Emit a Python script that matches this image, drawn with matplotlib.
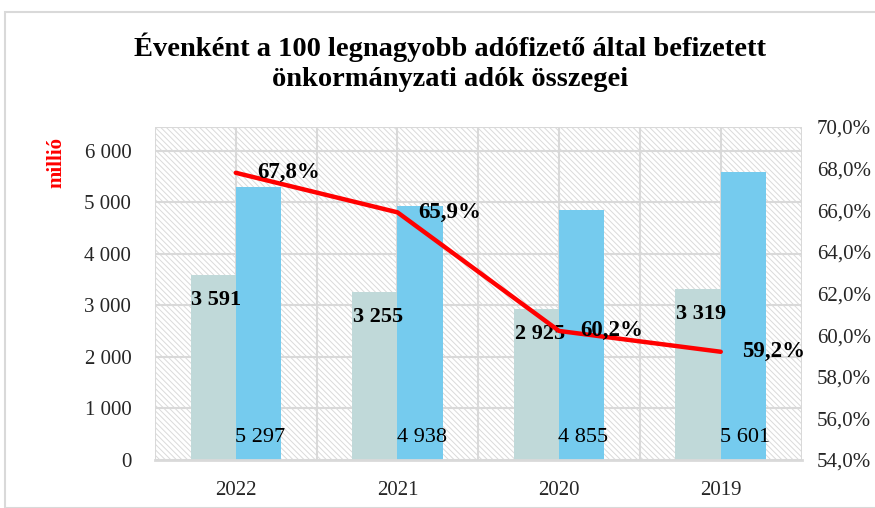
import matplotlib.pyplot as plt
from matplotlib.patches import Rectangle
from matplotlib.ticker import FuncFormatter, FixedLocator

# data
years = ["2022", "2021", "2020", "2019"]
top100 = [3591, 3255, 2925, 3319]       # millió Ft, gray bars
total = [5297, 4938, 4855, 5601]        # millió Ft, blue bars
share = [67.8, 65.9, 60.2, 59.2]        # %, red line

plt.rcParams['font.family'] = ['Liberation Serif', 'DejaVu Serif']
plt.rcParams['hatch.linewidth'] = 0.7
text_col = '#262626'
grid_col = '#d9d9d9'

fig = plt.figure(figsize=(8.75, 5.08), dpi=100)
ax = fig.add_axes([0.1771, 0.0945, 0.739, 0.6555])

# outer light frame
fig.patches.append(Rectangle((5 / 875, 0), 1, 1 - 12 / 508, transform=fig.transFigure,
                             facecolor='none', edgecolor='#d9d9d9', linewidth=1.5))

# hatched plot area background
ax.patch.set_visible(False)
bg = Rectangle((0, 0), 1, 1, transform=ax.transAxes, facecolor='white',
               edgecolor='#dadada', hatch='\\\\\\\\\\\\', linewidth=0, zorder=-2)
ax.add_patch(bg)

x = list(range(len(years)))
w = 0.28
gray_bars = ax.bar([i - w / 2 for i in x], top100, width=w, color='#c0d9d9', zorder=2)
blue_bars = ax.bar([i + w / 2 for i in x], total, width=w, color='#75cbee', zorder=2)

ax.set_xlim(-0.5, 3.5)
ax.set_ylim(0, 6466)
ax.set_yticks(range(0, 7000, 1000))
ax.yaxis.set_major_formatter(FuncFormatter(lambda v, p: f"{int(v):,}".replace(",", " ")))
ax.set_xticks(x)
ax.set_xticklabels(years)
ax.xaxis.set_minor_locator(FixedLocator([-0.5, 0.5, 1.5, 2.5, 3.5]))
ax.grid(True, which='both', color=grid_col, linewidth=1.5, zorder=0)
ax.set_axisbelow(True)
ax.axhline(6466, color=grid_col, linewidth=1.5, zorder=0)
for s in ['top', 'right', 'left']:
    ax.spines[s].set_visible(False)
ax.spines['bottom'].set_color(grid_col)
ax.spines['bottom'].set_linewidth(2)
ax.tick_params(axis='both', which='both', length=0, labelsize=15, colors=text_col)
ax.tick_params(axis='x', pad=15)
ax.tick_params(axis='y', pad=17)

for b, v in zip(gray_bars, top100):
    ax.text(b.get_x() + b.get_width() / 2 + 0.02, v - 480, f"{v:,}".replace(",", " "),
            ha='center', va='center', fontsize=16, fontweight='bold', color='black', zorder=5)
for b, v in zip(blue_bars, total):
    ax.text(b.get_x() + b.get_width() / 2 + 0.01, 437, f"{v:,}".replace(",", " "),
            ha='center', va='center', fontsize=16, color='black', zorder=5)

ax2 = ax.twinx()
ax2.plot(x, share, color='#ff0000', linewidth=3.2, solid_capstyle='round', zorder=4)
ax2.set_ylim(54, 70)
ax2.set_yticks(range(54, 72, 2))
ax2.yaxis.set_major_formatter(FuncFormatter(lambda v, p: f"{v:.1f}%".replace(".", ",")))
for s in ax2.spines.values():
    s.set_visible(False)
ax2.tick_params(axis='y', length=0, labelsize=15, colors=text_col, pad=11)
for i, v in enumerate(share):
    ax2.text(i + 0.13, v, f"{v:.1f}%".replace(".", ","), ha='left', va='center',
             fontsize=16.5, fontweight='bold', color='black', zorder=6)

fig.text(0.514, 1 - 47 / 508, "Évenként a 100 legnagyobb adófizető által befizetett",
         ha='center', va='center', fontsize=20.5, fontweight='bold', color='black')
fig.text(0.514, 1 - 80 / 508, "önkormányzati adók összegei",
         ha='center', va='center', fontsize=20.5, fontweight='bold', color='black')
fig.text(0.065, 1 - 163 / 508, "millió", rotation=90, ha='center', va='center',
         fontsize=15, fontweight='bold', color='#ff0000')

fig.savefig('out.png', dpi=100)
